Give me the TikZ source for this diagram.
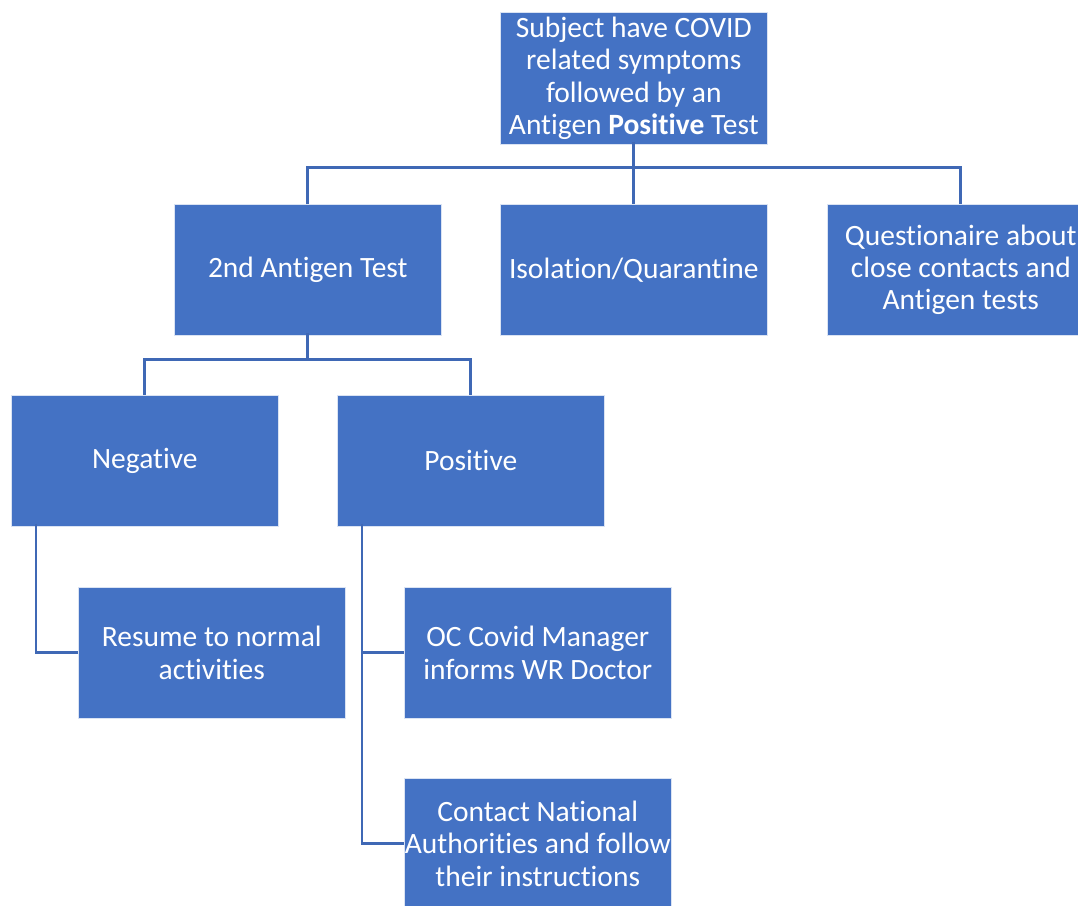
\documentclass[tikz,border=0pt]{standalone}
\usepackage{fontspec}
\setmainfont{Carlito}[RawFeature=-liga]
\definecolor{boxblue}{HTML}{4472C4}
\definecolor{lineblue}{HTML}{3F68B5}
\begin{document}
\begin{tikzpicture}[x=1pt,y=-1pt,
  box/.style={draw=white!80!boxblue,line width=0.6pt,fill=boxblue,text=white,minimum width=267pt,minimum height=131pt,
    align=center,inner sep=0pt,font=\fontsize{29.5}{32.4}\selectfont,anchor=north west},
  conn/.style={draw=lineblue,line width=2.8pt}]
\useasboundingbox (0,0) rectangle (1078,905);
\clip (0,0) rectangle (1078,905);
\node[box,minimum height=132pt] (top) at (500,12) {Subject have COVID\\related symptoms\\followed by an\\Antigen \textbf{Positive} Test};
\node[box] (ant) at (174,204) {2nd Antigen Test};
\node[box] (iso) at (500,204) {Isolation/Quarantine};
\node[box] (que) at (827,204) {Questionaire about\\close contacts and\\Antigen tests};
\node[box] (neg) at (11,395) {Negative};
\node[box] (pos) at (337,395) {Positive};
\node[box] (res) at (78,587) {Resume to normal\\activities};
\node[box] (oc) at (404,587) {OC Covid Manager\\informs WR Doctor};
\node[box] (nat) at (404,778) {Contact National\\Authorities and follow\\their instructions};
% top fan-out
\draw[conn] ([yshift=3pt]top.south) -- ++(0,26) coordinate (tj);
\draw[conn] (ant.north) |- (tj) -| (que.north);
\draw[conn] (tj) -- (iso.north);
% second fan-out
\draw[conn] ([yshift=3pt]ant.south) -- ++(0,27) coordinate (aj);
\draw[conn] (neg.north) |- (aj) -| (pos.north);
% negative branch
\draw[conn] ([xshift=25pt,yshift=3pt]neg.south west) |- (res.west);
% positive branch
\draw[conn] ([xshift=25pt,yshift=3pt]pos.south west) |- (nat.west);
\draw[conn] ([xshift=25pt]pos.south west |- oc.west) -- (oc.west);
\end{tikzpicture}
\end{document}
